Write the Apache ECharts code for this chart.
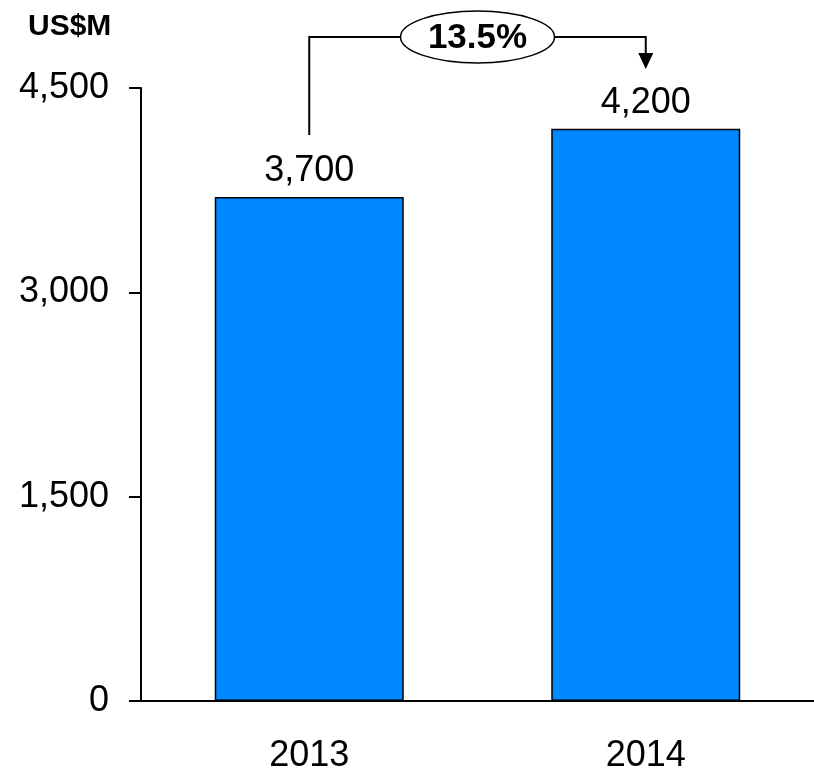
<!DOCTYPE html>
<html><head><meta charset="utf-8">
<script src="https://cdn.jsdelivr.net/npm/echarts@6/dist/echarts.min.js"></script>
<style>html,body{margin:0;padding:0;background:#fff;overflow:hidden}#c{width:814px;height:774px}</style>
</head><body><div id="c"></div>
<script>
const categories = ['2013', '2014'];
const values = [3700, 4200];
const yTicks = [0, 1500, 3000, 4500];
const unitLabel = 'US$M';
const growthLabel = '13.5%';

const FONT = '"Liberation Sans", Arial, sans-serif';
const chart = echarts.init(document.getElementById('c'), null, {renderer: 'canvas', width: 814, height: 774});
const fmt = v => v.toLocaleString('en-US');

chart.setOption({
  animation: false,
  grid: {left: 141, top: 88, width: 682, height: 617, containLabel: false},
  xAxis: {
    type: 'category', data: categories,
    axisLine: {lineStyle: {color: '#000', width: 2}},
    axisTick: {show: false},
    axisLabel: {fontFamily: FONT, fontSize: 36, color: '#000', margin: 37}
  },
  yAxis: {
    type: 'value', min: yTicks[0], max: yTicks[yTicks.length - 1], interval: 1500,
    splitLine: {show: false},
    axisLine: {show: true, lineStyle: {color: '#000', width: 2}},
    axisTick: {show: true, length: 12, lineStyle: {color: '#000', width: 2}},
    axisLabel: {fontFamily: FONT, fontSize: 36, color: '#000', margin: 32, formatter: fmt}
  },
  series: [{
    type: 'bar', data: values, barWidth: 189,
    itemStyle: {color: '#0088ff', borderColor: '#000', borderWidth: 1.5},
    label: {show: true, position: 'top', distance: 8, fontFamily: FONT, fontSize: 36, color: '#000', formatter: p => fmt(p.value)}
  }]
});

// annotation connector computed from the axes
const p0 = chart.convertToPixel({gridIndex: 0}, [0, values[0]]);
const p1 = chart.convertToPixel({gridIndex: 0}, [1, values[1]]);
const lineY = 37;
const ex = (p0[0] + p1[0]) / 2;
const erx = 77, ery = 26;
chart.setOption({
  graphic: [
    {type: 'text', x: 28, y: 27, style: {text: unitLabel, font: 'bold 30px ' + FONT, fill: '#000', verticalAlign: 'middle'}},
    {type: 'polyline', shape: {points: [[p0[0], p0[1] - 62], [p0[0], lineY], [ex - erx, lineY]]}, style: {stroke: '#000', lineWidth: 2, fill: null}},
    {type: 'polyline', shape: {points: [[ex + erx, lineY], [p1[0], lineY], [p1[0], lineY + 17]]}, style: {stroke: '#000', lineWidth: 2, fill: null}},
    {type: 'polygon', shape: {points: [[p1[0] - 7.5, lineY + 16], [p1[0] + 7.5, lineY + 16], [p1[0], lineY + 32]]}, style: {fill: '#000'}},
    {type: 'ellipse', shape: {cx: ex, cy: lineY, rx: erx, ry: ery}, style: {fill: '#fff', stroke: '#000', lineWidth: 1.5}},
    {type: 'text', x: ex, y: lineY + 1, style: {text: growthLabel, font: 'bold 35px ' + FONT, fill: '#000', align: 'center', verticalAlign: 'middle'}}
  ]
});
</script></body></html>
